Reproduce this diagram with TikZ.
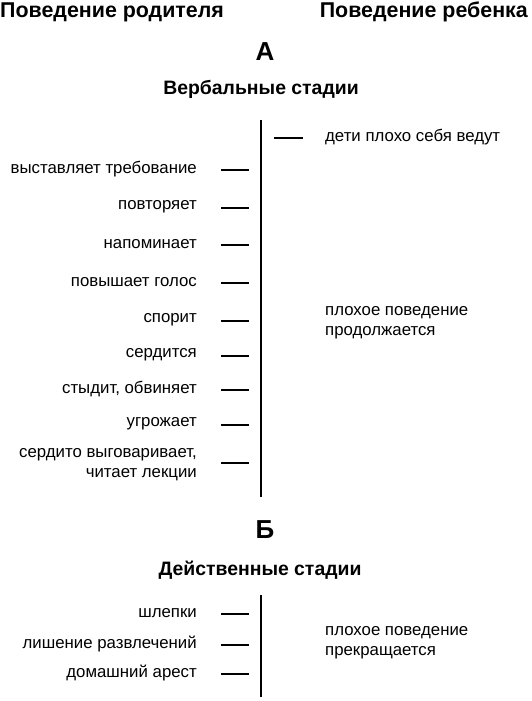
\documentclass[tikz,border=0pt]{standalone}
\usepackage{fontspec}
\setmainfont{Liberation Sans}
\begin{document}
\begin{tikzpicture}[x=1pt,y=-1pt,
  hdr/.style={font=\fontsize{21.4}{24}\selectfont\bfseries, inner sep=0pt},
  big/.style={font=\fontsize{26}{30}\selectfont\bfseries, inner sep=0pt},
  ttl/.style={font=\fontsize{19.4}{22}\selectfont\bfseries, inner sep=0pt},
  lbl/.style={font=\fontsize{16.8}{20}\selectfont, inner sep=0pt, anchor=east, align=right},
  rlbl/.style={font=\fontsize{16.8}{20}\selectfont, inner sep=0pt, anchor=west, align=left},
  tick/.style={line width=1.3pt},
  axis/.style={line width=1.3pt}]
\useasboundingbox (0,0) rectangle (531,701);
\node[hdr, anchor=west] (hp) at (0,12) {Поведение родителя};
\node[hdr, anchor=east] (hc) at (528,12) {Поведение ребенка};
\node[big] (A) at (265,52) {А};
\node[ttl] (vs) at (261,89) {Вербальные стадии};
\coordinate (v1t) at (261,120);
\coordinate (v1b) at (261,497);
\draw[axis] (v1t) -- (v1b);
\coordinate (r0a) at (274,138);
\coordinate (r0b) at (303,138);
\draw[tick] (r0a) -- (r0b);
\node[rlbl] (c0) at (325,137) {дети плохо себя ведут};
\node[rlbl] (c1) at (325,323) {плохое поведение\\продолжается};
\foreach \t/\y/\n in {выставляет требование/169/p1, повторяет/207/p2, напоминает/244/p3, повышает голос/282/p4, спорит/320/p5, сердится/355/p6, {стыдит, обвиняет}/389/p7, угрожает/424/p8}{
  \node[lbl] (\n) at (197,\y) {\t};
  \coordinate (\n a) at (221,\y+1);
  \coordinate (\n b) at (249,\y+1);
  \draw[tick] (\n a) -- (\n b);
}
\node[lbl] (p9) at (197,465) {сердито выговаривает,\\читает лекции};
\coordinate (p9a) at (221,463);
\coordinate (p9b) at (249,463);
\draw[tick] (p9a) -- (p9b);
\node[big] (B) at (265,530) {Б};
\node[ttl] (ds) at (260,570) {Действенные стадии};
\coordinate (v2t) at (261,595);
\coordinate (v2b) at (261,697);
\draw[axis] (v2t) -- (v2b);
\foreach \t/\y/\n in {шлепки/613/q1, лишение развлечений/644/q2, домашний арест/673/q3}{
  \node[lbl] (\n) at (197,\y) {\t};
  \coordinate (\n a) at (221,\y+1);
  \coordinate (\n b) at (249,\y+1);
  \draw[tick] (\n a) -- (\n b);
}
\node[rlbl] (c2) at (325,643) {плохое поведение\\прекращается};
\end{tikzpicture}
\end{document}
